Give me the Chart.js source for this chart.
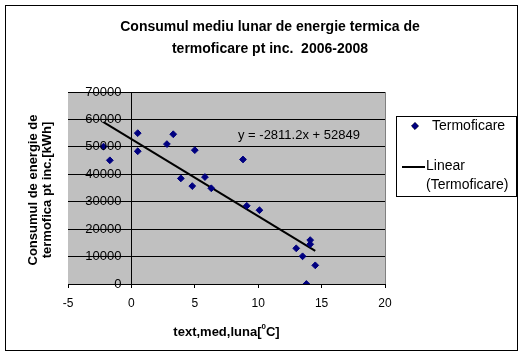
<!DOCTYPE html>
<html><head><meta charset="utf-8">
<script src="https://cdn.jsdelivr.net/npm/chart.js@4/dist/chart.umd.min.js"></script>
<style>html,body{margin:0;padding:0;background:#fff}#wrap{width:525px;height:356px;position:relative}</style>
</head><body><div id="wrap"><canvas id="c" width="525" height="356"></canvas></div>
<script>
const titleLines = ["Consumul mediu lunar de energie termica de", "termoficare pt inc.  2006-2008"];
const xTitleParts = ["text,med,luna[", "0", "C]"];
const yTitleLines = ["Consumul de energie de", "termofica pt inc.[kWh]"];
const seriesName = "Termoficare";
const trendName = "Linear (Termoficare)";
const trendLegendLines = ["Linear", "(Termoficare)"];
const temperature = [-2.2, -1.7, 0.5, 0.5, 2.8, 3.3, 5.0, 3.9, 4.8, 5.8, 6.3, 8.8, 9.1, 10.1, 13.0, 13.5, 14.1, 14.1, 14.5, 13.8];
const consumption = [50100, 45100, 55000, 48400, 51000, 54600, 48800, 38500, 35700, 39000, 34900, 45400, 28500, 26900, 13000, 10100, 16000, 14500, 6800, 0];
const trendSlope = -2811.2;
const trendIntercept = 52849;
const xTicks = [-5, 0, 5, 10, 15, 20];
const yTicks = [0, 10000, 20000, 30000, 40000, 50000, 60000, 70000];

const FONT = '"Liberation Sans", Arial, sans-serif';
const xMin = Math.min(...temperature), xMax = Math.max(...temperature);
const trendFn = x => trendSlope * x + trendIntercept;

const decor = {
  id: 'decor',
  beforeDraw(chart) {
    const {ctx, chartArea: a} = chart;
    ctx.save();
    ctx.fillStyle = '#ffffff';
    ctx.fillRect(0, 0, chart.width, chart.height);
    ctx.fillStyle = '#c0c0c0';
    ctx.fillRect(a.left, a.top, a.right - a.left, a.bottom - a.top);
    ctx.restore();
  },
  afterDraw(chart) {
    const {ctx, chartArea: a} = chart;
    const xs = chart.scales.x, ys = chart.scales.y;
    ctx.save();
    ctx.strokeStyle = '#808080';
    ctx.lineWidth = 1;
    ctx.beginPath();
    ctx.moveTo(Math.round(a.right) + 0.5, a.top);
    ctx.lineTo(Math.round(a.right) + 0.5, a.bottom);
    ctx.stroke();
    ctx.strokeStyle = '#000';
    ctx.strokeRect(5.5, 5.5, 512, 345);
    ctx.fillStyle = '#000';
    // y tick labels, placed next to the axis that crosses at x = 0
    ctx.font = '13px ' + FONT;
    ctx.textAlign = 'right';
    ctx.textBaseline = 'middle';
    const axisX = xs.getPixelForValue(0);
    ys.ticks.forEach(t => {
      ctx.fillText(String(t.value), axisX - 10, ys.getPixelForValue(t.value));
    });
    ctx.textAlign = 'center';
    ctx.font = 'bold 14px ' + FONT;
    ctx.fillText(titleLines[0], 270, 27);
    ctx.fillText(titleLines[1], 270, 49);
    ctx.font = 'bold 13px ' + FONT;
    const w0 = ctx.measureText(xTitleParts[0]).width;
    const w2 = ctx.measureText(xTitleParts[2]).width;
    ctx.font = 'bold 8px ' + FONT;
    const w1 = ctx.measureText(xTitleParts[1]).width;
    const cx = (a.left + a.right) / 2;
    let sx = cx - (w0 + w1 + w2) / 2;
    ctx.textAlign = 'left';
    ctx.font = 'bold 13px ' + FONT;
    ctx.fillText(xTitleParts[0], sx, 332);
    ctx.font = 'bold 8px ' + FONT;
    ctx.fillText(xTitleParts[1], sx + w0, 327);
    ctx.font = 'bold 13px ' + FONT;
    ctx.fillText(xTitleParts[2], sx + w0 + w1, 332);
    ctx.save();
    ctx.translate(33, (a.top + a.bottom) / 2 + 2);
    ctx.rotate(-Math.PI / 2);
    ctx.textAlign = 'center';
    ctx.font = 'bold 13px ' + FONT;
    ctx.fillText(yTitleLines[0], 0, 0);
    ctx.fillText(yTitleLines[1], 0, 14);
    ctx.restore();
    ctx.font = '13px ' + FONT;
    ctx.textAlign = 'left';
    ctx.fillText('y = ' + trendSlope + 'x + ' + trendIntercept, 238, 135);
    ctx.strokeStyle = '#000';
    ctx.lineWidth = 1;
    ctx.strokeRect(396.5, 116.5, 120, 80);
    const ds0 = chart.data.datasets[0];
    ctx.fillStyle = ds0.backgroundColor;
    Chart.helpers.drawPoint(ctx, {pointStyle: 'rectRot', radius: 3.4, borderWidth: 1}, 415, 126);
    ctx.fill();
    ctx.fillStyle = '#000';
    ctx.font = '14px ' + FONT;
    ctx.fillText(ds0.label, 432, 126);
    ctx.lineWidth = 2;
    ctx.beginPath();
    ctx.moveTo(402, 167);
    ctx.lineTo(425, 167);
    ctx.stroke();
    ctx.fillText(trendLegendLines[0], 426, 166);
    ctx.fillText(trendLegendLines[1], 426, 185);
    ctx.restore();
  }
};

new Chart(document.getElementById('c'), {
  type: 'scatter',
  data: {
    datasets: [
      {
        label: seriesName,
        data: temperature.map((t, i) => ({x: t, y: consumption[i]})),
        pointStyle: 'rectRot',
        pointRadius: 3.4,
        borderWidth: 1,
        backgroundColor: '#000080',
        borderColor: '#000080'
      },
      {
        type: 'line',
        label: trendName,
        data: [{x: xMin, y: trendFn(xMin)}, {x: xMax, y: trendFn(xMax)}],
        borderColor: '#000',
        borderWidth: 2,
        pointRadius: 0,
        fill: false
      }
    ]
  },
  options: {
    responsive: false,
    devicePixelRatio: 1,
    animation: false,
    layout: {padding: {left: 68, right: 140, top: 92, bottom: 0}},
    plugins: {legend: {display: false}, tooltip: {enabled: false}, title: {display: false}},
    scales: {
      x: {
        type: 'linear',
        position: 'bottom',
        min: -5, max: 20,
        afterBuildTicks: s => { s.ticks = xTicks.map(v => ({value: v})); },
        afterFit: s => { s.height = 72; },
        ticks: {color: '#000', font: {family: FONT, size: 12}, padding: 8, maxRotation: 0, callback: v => String(v)},
        grid: {display: true, drawOnChartArea: false, drawTicks: true, tickLength: 4, color: '#000'},
        border: {display: true, color: '#000', width: 1}
      },
      y: {
        type: 'linear',
        position: {x: 0},
        min: 0, max: 70000,
        afterBuildTicks: s => { s.ticks = yTicks.map(v => ({value: v})); },
        ticks: {display: false},
        grid: {display: true, drawOnChartArea: true, drawTicks: true, tickLength: 4, color: '#000'},
        border: {display: true, color: '#000', width: 1}
      }
    }
  },
  plugins: [decor]
});
</script>
</body></html>
